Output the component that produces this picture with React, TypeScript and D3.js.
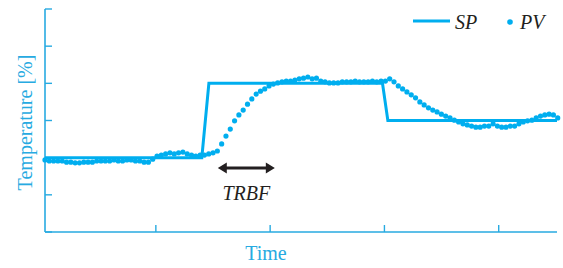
import React from "react";
import * as d3 from "d3";

const W = 563;
const H = 268;

// Set point (SP): step changes
const spTime = [0.03, 1.402, 1.464, 2.983, 3.03, 4.51];
const spValue = [2, 2, 4, 4, 3, 3];

// Process variable (PV): sampled values
const pvStart = 0.03;
const pvStep = 0.0377;
const pvValues = [
  1.94, 1.91, 1.91, 1.91, 1.91, 1.88, 1.88, 1.86, 1.86, 1.88,
  1.88, 1.88, 1.91, 1.91, 1.91, 1.91, 1.94, 1.91, 1.91, 1.94,
  1.94, 1.91, 1.91, 1.88, 1.88, 1.96, 2.04, 2.07, 2.1, 2.13,
  2.1, 2.13, 2.15, 2.1, 2.07, 2.04, 2.07, 2.07, 2.1, 2.13,
  2.18, 2.37, 2.58, 2.77, 2.99, 3.15, 3.28, 3.44, 3.58, 3.71,
  3.79, 3.85, 3.93, 3.98, 4.01, 4.04, 4.06, 4.06, 4.09, 4.12,
  4.14, 4.17, 4.12, 4.14, 4.06, 4.04, 4.01, 4.01, 4.01, 4.04,
  4.04, 4.04, 4.06, 4.04, 4.04, 4.04, 4.06, 4.04, 4.06, 4.06,
  4.12, 4.04, 3.93, 3.85, 3.77, 3.69, 3.61, 3.5, 3.42, 3.34,
  3.28, 3.23, 3.17, 3.12, 3.07, 3.01, 2.96, 2.91, 2.88, 2.85,
  2.82, 2.82, 2.85, 2.85, 2.91, 2.85, 2.82, 2.82, 2.85, 2.85,
  2.91, 2.96, 2.99, 3.01, 3.07, 3.12, 3.15, 3.17, 3.15, 3.07,
];

const xTicks = [1, 2, 3, 4];
const yTicks = [0, 1, 2, 3, 4, 5, 6];
const legendLabels = ["SP", "PV"];
const axisLabels = { x: "Time", y: "Temperature [%]" };
const annotationLabel = "TRBF";
const annotationSpan = [1.542, 2.041];
const annotationLevel = 1.72;
const annotationTextLevel = 0.86;

const BLUE = "#00AEEF";
const AXIS = "#27AAE1";
const DARK = "#231F20";
const FONT = "Liberation Serif, DejaVu Serif, serif";

export default function App() {
  const x = d3.scaleLinear().domain([0.03, 4.51]).range([45, 557]);
  const y = d3.scaleLinear().domain([0, 6]).range([232, 9]);

  const spData = spTime.map((t, i) => [t, spValue[i]] as [number, number]);
  const spLine = d3
    .line<[number, number]>()
    .x((d) => x(d[0]))
    .y((d) => y(d[1]))(spData);

  const pv = pvValues.map((v, i) => ({ t: pvStart + i * pvStep, v }));

  const ax0 = x(annotationSpan[0]);
  const ax1 = x(annotationSpan[1]);
  const ay = y(annotationLevel);
  const head = 9;
  const hh = 5.5;
  const sh = 1.5;
  const arrowPath = [
    `M${ax0},${ay}`,
    `L${ax0 + head},${ay - hh}`,
    `L${ax0 + head},${ay - sh}`,
    `L${ax1 - head},${ay - sh}`,
    `L${ax1 - head},${ay - hh}`,
    `L${ax1},${ay}`,
    `L${ax1 - head},${ay + hh}`,
    `L${ax1 - head},${ay + sh}`,
    `L${ax0 + head},${ay + sh}`,
    `L${ax0 + head},${ay + hh}`,
    "Z",
  ].join(" ");

  const txt = (italic: boolean) => ({
    fontFamily: FONT,
    fontStyle: italic ? "italic" : "normal",
    fontSize: "20px",
  });

  return (
    <svg
      width={W}
      height={H}
      style={{ position: "absolute", left: 0, top: 0, background: "#fff" }}
    >
      {/* axes */}
      <line x1={x(0.03)} x2={x(0.03)} y1={y(6)} y2={y(0)} stroke={AXIS} strokeWidth={1.6} />
      <line x1={x(0.03)} x2={x(4.51)} y1={y(0)} y2={y(0)} stroke={AXIS} strokeWidth={1.6} />
      {yTicks.map((t) => (
        <line key={"yt" + t} x1={x(0.03)} x2={x(0.03) + 7} y1={y(t)} y2={y(t)} stroke={AXIS} strokeWidth={1.4} />
      ))}
      {xTicks.map((t) => (
        <line key={"xt" + t} x1={x(t)} x2={x(t)} y1={y(0)} y2={y(0) - 7} stroke={AXIS} strokeWidth={1.4} />
      ))}

      {/* axis labels */}
      <text
        transform={`translate(31.5, ${(y(6) + y(0)) / 2 + 2}) rotate(-90)`}
        textAnchor="middle"
        style={txt(false)}
        fill={AXIS}
      >
        {axisLabels.y}
      </text>
      <text x={266} y={260} textAnchor="middle" style={txt(false)} fill={AXIS}>
        {axisLabels.x}
      </text>

      {/* SP */}
      <path d={spLine || ""} fill="none" stroke={BLUE} strokeWidth={3} strokeLinejoin="miter" />

      {/* PV */}
      {pv.map((d, i) => (
        <circle key={i} cx={x(d.t)} cy={y(d.v)} r={2.6} fill={BLUE} />
      ))}

      {/* annotation */}
      <path d={arrowPath} fill={DARK} />
      <text
        x={(ax0 + ax1) / 2}
        y={y(annotationTextLevel)}
        textAnchor="middle"
        style={txt(true)}
        fill={DARK}
      >
        {annotationLabel}
      </text>

      {/* legend */}
      <line x1={413} x2={450} y1={21} y2={21} stroke={BLUE} strokeWidth={3} />
      <text x={455} y={29} style={txt(true)} fill={DARK}>
        {legendLabels[0]}
      </text>
      <circle cx={510} cy={22} r={2.8} fill={BLUE} />
      <text x={520} y={29} style={txt(true)} fill={DARK}>
        {legendLabels[1]}
      </text>
    </svg>
  );
}
